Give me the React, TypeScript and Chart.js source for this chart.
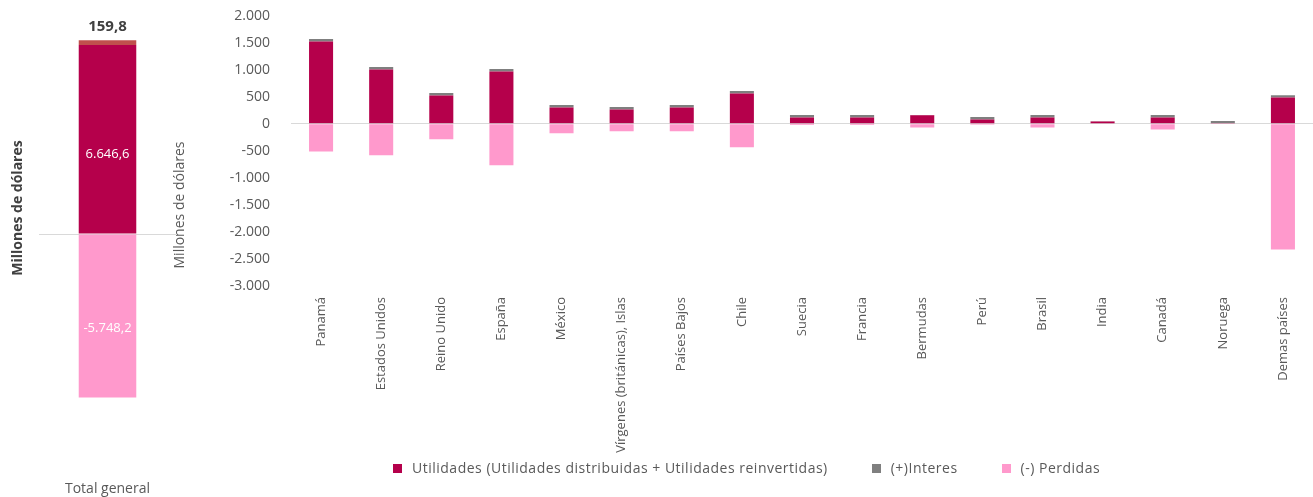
import React, { useEffect, useRef } from "react";
import { Chart, registerables } from "chart.js";

Chart.register(...registerables);

const FONT = "'Open Sans', 'Noto Sans', sans-serif";

// ---- data ----
const countries = [
  "Panamá",
  "Estados Unidos",
  "Reino Unido",
  "España",
  "México",
  "Vírgenes (británicas), Islas",
  "Países Bajos",
  "Chile",
  "Suecia",
  "Francia",
  "Bermudas",
  "Perú",
  "Brasil",
  "India",
  "Canadá",
  "Noruega",
  "Demas países",
];
const utilidades = [1521, 1003, 522, 966, 300, 263, 300, 559, 115, 115, 159, 78, 115, 41, 115, 15, 485];
const interes = [50, 50, 50, 49, 50, 50, 50, 50, 50, 50, 5, 50, 50, 5, 50, 35, 44];
const perdidas = [-514, -581, -285, -766, -174, -137, -137, -433, -20, -20, -70, -15, -70, -10, -107, -10, -2327];

const totalCategory = ["Total general"];
const totalUtilidades = [6646.6];
const totalInteres = [159.8];
const totalPerdidas = [-5748.2];

const yTickValues = [2000, 1500, 1000, 500, 0, -500, -1000, -1500, -2000, -2500, -3000];

const seriesNames = [
  "Utilidades (Utilidades distribuidas + Utilidades reinvertidas)",
  "(+)Interes",
  "(-) Perdidas",
];
const seriesColors = ["#B5004B", "#7F7F7F", "#FF99CC"];
const totalInteresColor = "#C0504D";
const axisTitle = "Millones de dólares";

// ---- helpers ----
function fmt(v: number, dec = 0): string {
  const neg = v < 0;
  const s = Math.abs(v).toFixed(dec);
  const parts = s.split(".");
  const i = parts[0].replace(/\B(?=(\d{3})+(?!\d))/g, ".");
  return (neg ? "-" : "") + i + (parts[1] ? "," + parts[1] : "");
}

const zeroGrid = (c: any) => (c.tick && c.tick.value === 0 ? "#D9D9D9" : "rgba(0,0,0,0)");

function axisTitlePlugin(text: string, font: string, color: string, centerY: number) {
  return {
    id: "axisTitle",
    afterDraw(chart: any) {
      const ctx = chart.ctx;
      const y = chart.scales.y;
      ctx.save();
      ctx.translate(y.left + 12.4, centerY);
      ctx.rotate(-Math.PI / 2);
      ctx.textAlign = "center";
      ctx.textBaseline = "middle";
      ctx.fillStyle = color;
      ctx.font = font;
      ctx.fillText(text, 0, 0);
      ctx.restore();
    },
  };
}

const leftLabelsPlugin = {
  id: "leftLabels",
  afterDatasetsDraw(chart: any) {
    const ctx = chart.ctx;
    const b0 = chart.getDatasetMeta(0).data[0] as any;
    const b1 = chart.getDatasetMeta(1).data[0] as any;
    const b2 = chart.getDatasetMeta(2).data[0] as any;
    ctx.save();
    ctx.textAlign = "center";
    ctx.textBaseline = "middle";
    ctx.fillStyle = "#FFFFFF";
    ctx.font = `13px ${FONT}`;
    ctx.fillText(fmt(totalUtilidades[0], 1), b0.x, (b0.y + b0.base) / 2 + 15);
    ctx.fillText(fmt(totalPerdidas[0], 1), b2.x, (b2.y + b2.base) / 2 + 12);
    ctx.fillStyle = "#404040";
    ctx.font = `bold 15px ${FONT}`;
    ctx.fillText(fmt(totalInteres[0], 1), b1.x, b1.y - 14);
    ctx.restore();
  },
};

export default function App() {
  const leftRef = useRef<HTMLCanvasElement>(null);
  const rightRef = useRef<HTMLCanvasElement>(null);

  useEffect(() => {
    Chart.defaults.font.family = FONT;
    Chart.defaults.color = "#595959";

    const left = new Chart(leftRef.current as HTMLCanvasElement, {
      type: "bar",
      data: {
        labels: totalCategory,
        datasets: [
          { label: seriesNames[0], data: totalUtilidades, backgroundColor: seriesColors[0] },
          { label: seriesNames[1], data: totalInteres, backgroundColor: totalInteresColor },
          { label: seriesNames[2], data: totalPerdidas, backgroundColor: seriesColors[2] },
        ],
      },
      options: {
        animation: false,
        responsive: false,
        maintainAspectRatio: false,
        datasets: { bar: { barPercentage: 0.42, categoryPercentage: 1 } } as any,
        layout: { padding: { left: 5.6, top: 34.85, right: 0, bottom: 0 } },
        plugins: { legend: { display: false }, tooltip: { enabled: false } },
        scales: {
          x: {
            stacked: true,
            grid: { display: false, drawTicks: true, tickLength: 76 },
            border: { display: false },
            ticks: { padding: 0, color: "#595959", font: { size: 14 } },
            afterFit: (s: any) => {
              s.height = 92.3;
            },
          },
          y: {
            stacked: true,
            min: -6000,
            max: 7000,
            afterBuildTicks: (s: any) => {
              s.ticks = [{ value: 0 }];
            },
            ticks: { display: false },
            grid: { color: zeroGrid, drawTicks: false, lineWidth: 1 },
            border: { display: false },
            title: { display: false },
            afterFit: (s: any) => {
              s.width = 33.4;
              s.paddingTop = 0;
              s.paddingBottom = 0;
            },
          },
        },
      } as any,
      plugins: [leftLabelsPlugin, axisTitlePlugin(axisTitle, `bold 14px ${FONT}`, "#404040", 208)],
    });

    const right = new Chart(rightRef.current as HTMLCanvasElement, {
      type: "bar",
      data: {
        labels: countries,
        datasets: [
          { label: seriesNames[0], data: utilidades, backgroundColor: seriesColors[0] },
          { label: seriesNames[1], data: interes, backgroundColor: seriesColors[1] },
          { label: seriesNames[2], data: perdidas, backgroundColor: seriesColors[2] },
        ],
      },
      options: {
        animation: false,
        responsive: false,
        maintainAspectRatio: false,
        datasets: { bar: { barPercentage: 0.4, categoryPercentage: 1 } } as any,
        layout: { padding: { left: 7.6, top: 15.7, right: 0, bottom: 0 } },
        plugins: { legend: { display: false }, tooltip: { enabled: false } },
        scales: {
          x: {
            stacked: true,
            grid: { display: false },
            border: { display: false },
            ticks: {
              autoSkip: false,
              maxRotation: 90,
              minRotation: 90,
              padding: 3,
              color: "#595959",
              font: { size: 13 },
            },
            afterFit: (s: any) => {
              s.height = 211;
            },
          },
          y: {
            stacked: true,
            min: -3000,
            max: 2000,
            afterBuildTicks: (s: any) => {
              s.ticks = yTickValues.map((v) => ({ value: v }));
            },
            ticks: {
              callback: (v: any) => fmt(Number(v)),
              padding: 21,
              color: "#595959",
              font: { size: 14 },
            },
            grid: { color: zeroGrid, drawTicks: false, lineWidth: 1 },
            border: { display: false },
            title: { display: false },
            afterFit: (s: any) => {
              s.width = 123.4;
              s.paddingTop = 0;
              s.paddingBottom = 0;
            },
          },
        },
      } as any,
      plugins: [axisTitlePlugin(axisTitle, `14px ${FONT}`, "#595959", 205)],
    });

    return () => {
      left.destroy();
      right.destroy();
    };
  }, []);

  return (
    <div
      style={{
        position: "fixed",
        left: 0,
        top: 0,
        width: 1313,
        height: 497,
        background: "#FFFFFF",
        overflow: "hidden",
      }}
    >
      <canvas
        ref={leftRef}
        width={176}
        height={497}
        style={{ position: "absolute", left: 0, top: 0, width: 176, height: 497 }}
      />
      <canvas
        ref={rightRef}
        width={1153}
        height={497}
        style={{ position: "absolute", left: 160, top: 0, width: 1153, height: 497 }}
      />
      <div
        style={{
          position: "absolute",
          left: 393,
          top: 460,
          display: "flex",
          alignItems: "center",
          fontFamily: FONT,
          fontSize: 14,
          letterSpacing: "0.5px",
          lineHeight: "16px",
          color: "#595959",
          whiteSpace: "nowrap",
        }}
      >
        {seriesNames.map((n, i) => (
          <div key={n} style={{ display: "flex", alignItems: "center", marginRight: 44 }}>
            <span
              style={{
                display: "inline-block",
                width: 9,
                height: 9,
                background: seriesColors[i],
                marginRight: 10,
              }}
            />
            <span>{n}</span>
          </div>
        ))}
      </div>
    </div>
  );
}
